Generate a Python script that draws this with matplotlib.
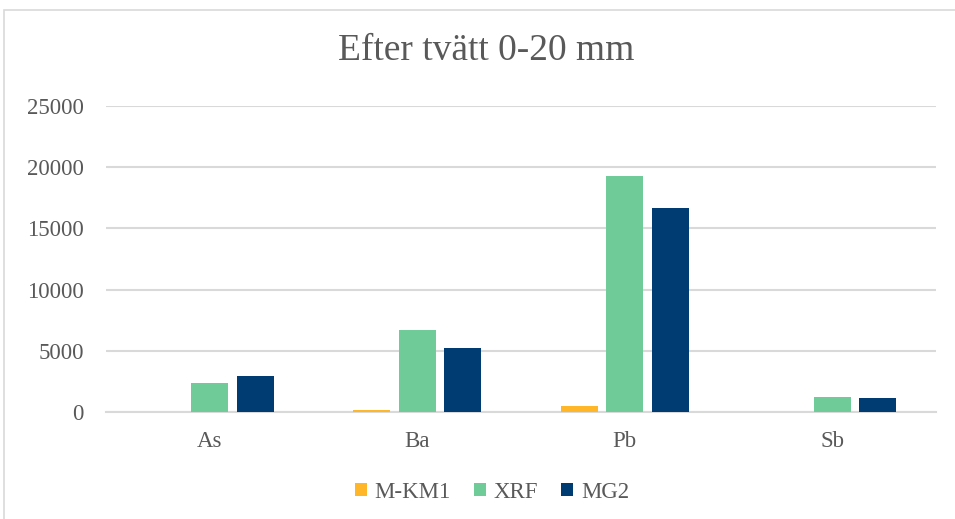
import numpy as np
import matplotlib
matplotlib.use("Agg")
import matplotlib.pyplot as plt
from matplotlib.patches import Rectangle

# Element concentrations per analysis method
elements = ["As", "Ba", "Pb", "Sb"]
series_names = ["M-KM1", "XRF", "MG2"]
m_km1 = [15, 190, 500, 25]
xrf = [2340, 6720, 19300, 1250]
mg2 = [2940, 5250, 16680, 1120]
colors = ["#FFB628", "#6FCB98", "#003B71"]

TEXT = "#595959"
GRID = "#D9D9D9"
SERIF = ["Liberation Serif", "DejaVu Serif"]

plt.rcParams["font.family"] = SERIF

fig = plt.figure(figsize=(9.55, 5.19), dpi=100)
ax = fig.add_axes([106 / 955, 107 / 519, 830 / 955, 306 / 519])

x = np.arange(len(elements))
step = 0.22
width = 0.178
for i, (name, vals) in enumerate(zip(series_names, [m_km1, xrf, mg2])):
    ax.bar(x + (i - 1) * step, vals, width, color=colors[i], label=name, zorder=3)

ax.set_xlim(-0.5, len(elements) - 0.5)
ax.set_ylim(0, 25000)
ax.set_yticks(range(0, 25001, 5000))
ax.set_xticks(x)
ax.set_xticklabels(elements)
ax.grid(axis="y", color=GRID, linewidth=1.5, zorder=0)
ax.set_axisbelow(True)
for side in ["top", "right", "left"]:
    ax.spines[side].set_visible(False)
ax.spines["bottom"].set_color(GRID)
ax.spines["bottom"].set_linewidth(1.5)
ax.tick_params(axis="both", length=0, labelsize=16.5, labelcolor=TEXT)
ax.tick_params(axis="x", pad=14)
ax.tick_params(axis="y", pad=16)

fig.text(486 / 955, 1 - 51 / 519, "Efter tvätt 0-20 mm", ha="center", va="center",
         fontsize=27, color=TEXT)

fig.legend(loc="center", bbox_to_anchor=(492 / 955, 1 - 492 / 519), ncol=3,
           frameon=False, prop={"family": SERIF, "size": 16.5}, labelcolor=TEXT,
           handlelength=0.52, handleheight=0.52, handletextpad=0.35,
           columnspacing=1.0)

# chart frame
fig.patches.append(Rectangle((4 / 955, -0.1), 1.2, 1.1 - 10 / 519,
                             transform=fig.transFigure, fill=False,
                             edgecolor=GRID, linewidth=1.2))

fig.savefig("out.png", dpi=100, facecolor="white")
